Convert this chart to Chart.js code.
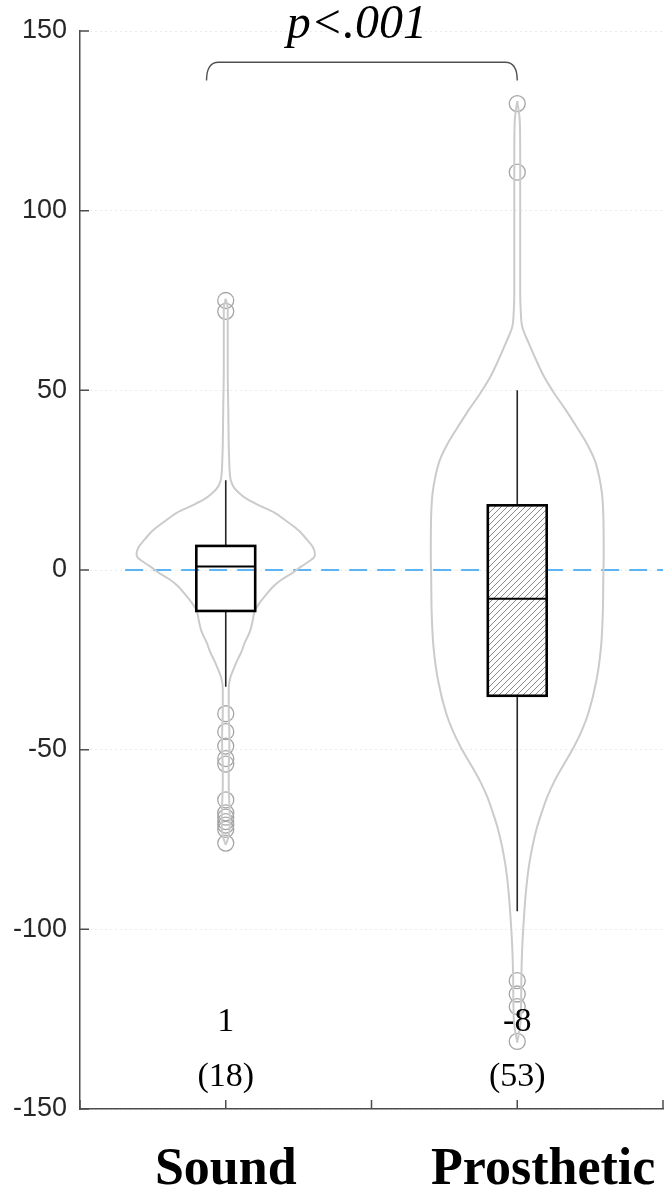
<!DOCTYPE html>
<html>
<head>
<meta charset="utf-8">
<script src="https://cdn.jsdelivr.net/npm/chart.js@4.4.1/dist/chart.umd.min.js"></script>
<style>
  html, body { margin: 0; padding: 0; background: #fff; }
  #wrap { width: 665px; height: 1194px; }
</style>
</head>
<body>
<div id="wrap"><canvas id="violin" width="665" height="1194"></canvas></div>
<script>
// groups on the x axis
const groups = ['Sound', 'Prosthetic'];
const groupPos = [1, 2];

// box plot stats
const q1 = [-11.4, -35];
const medians = [1, -8];
const q3 = [6.7, 18];
const whiskerLow = [-32.5, -95];
const whiskerHigh = [25, 50];
const iqrLabel = [18, 53];

// outliers
const soundOutliers = [75, 72, -40, -45, -49, -52.5, -54, -64, -67.6, -68.8, -70, -71, -72.2, -76];
const prostheticOutliers = [129.8, 110.7, -114.3, -118, -121.5, -131.2];

// violin outlines: levels (y) and relative density (0..1)
const soundLevels = [75.5, 73, 65, 55, 45, 35, 30, 27, 25, 23, 21.5, 20, 18, 16, 13.5, 11, 8.5, 6.4, 4.5, 3.5, 2.5, 1, -1, -2.5, -4.5, -6.5, -9, -11.5, -14, -17, -20.3, -23, -25, -28, -30, -33, -40, -45, -50, -55, -60, -65, -70, -74, -76.5];
const soundDensity = [0, .022, .022, .022, .028, .033, .039, .045, .056, .09, .145, .22, .37, .54, .68, .81, .9, .967, .99, .98, .93, .84, .73, .63, .53, .46, .38, .32, .30, .27, .21, .17, .13, .08, .05, .033, .033, .04, .04, .033, .033, .04, .045, .033, 0];
const prostheticLevels = [130.5, 125, 115, 105, 95, 85, 77, 72, 67.6, 63, 58.4, 53.7, 49.2, 44.5, 39.8, 35.3, 30.6, 25.9, 21.4, 15.8, 5, -2.8, -12, -21.4, -30.6, -39.8, -44.5, -49.2, -54, -58.4, -63, -67.6, -72, -77, -82, -86.2, -90.8, -95.4, -104.7, -113, -120, -126, -131.5];
const prostheticDensity = [0, .028, .033, .033, .033, .033, .033, .039, .056, .13, .21, .30, .41, .54, .66, .77, .86, .91, .94, .955, .96, .955, .95, .93, .88, .79, .72, .63, .52, .42, .335, .27, .215, .168, .132, .11, .092, .078, .056, .046, .043, .036, 0];

const yTicks = [-150, -100, -50, 0, 50, 100, 150];
const pText = 'p<.001';

// drawing constants
const VIOLIN_HALF = 0.309;
const BOX_HALF = 0.101;
const SERIF = '"Times New Roman", "Liberation Serif", serif';
const SANS = 'Arial, "Liberation Sans", Helvetica, sans-serif';

function violinSide(center, levels, dens, sign) {
  return levels.map((v, i) => ({ x: center + sign * dens[i] * VIOLIN_HALF, y: v }));
}

const canvas = document.getElementById('violin');
const ctx = canvas.getContext('2d');

function hatchPattern() {
  const c = document.createElement('canvas');
  c.width = 6; c.height = 6;
  const g = c.getContext('2d');
  g.fillStyle = '#fff';
  g.fillRect(0, 0, 6, 6);
  g.strokeStyle = '#8a8a8a';
  g.lineWidth = 1;
  g.beginPath();
  g.moveTo(0, 6); g.lineTo(6, 0);
  g.moveTo(-1, 1); g.lineTo(1, -1);
  g.moveTo(5, 7); g.lineTo(7, 5);
  g.stroke();
  return ctx.createPattern(c, 'repeat');
}
const hatch = hatchPattern();

const violinStyle = {
  type: 'line',
  indexAxis: 'y',
  showLine: true,
  borderColor: '#cbcbcb',
  borderWidth: 2,
  pointRadius: 0,
  cubicInterpolationMode: 'monotone',
  fill: false
};
const outlierStyle = {
  type: 'scatter',
  showLine: false,
  pointStyle: 'circle',
  pointRadius: 8,
  borderWidth: 1.3,
  borderColor: '#a5a5a5',
  backgroundColor: 'rgba(0,0,0,0)'
};

const overlay = {
  id: 'overlay',
  afterDatasetsDraw(chart) {
    const { ctx, scales: { x, y } } = chart;
    ctx.save();
    groupPos.forEach((c, i) => {
      const cx = x.getPixelForValue(c);
      // whiskers
      ctx.strokeStyle = '#262626';
      ctx.lineWidth = 1.6;
      ctx.beginPath();
      ctx.moveTo(cx, y.getPixelForValue(q3[i]));
      ctx.lineTo(cx, y.getPixelForValue(whiskerHigh[i]));
      ctx.moveTo(cx, y.getPixelForValue(q1[i]));
      ctx.lineTo(cx, y.getPixelForValue(whiskerLow[i]));
      ctx.stroke();
      // box
      const l = x.getPixelForValue(c - BOX_HALF);
      const r = x.getPixelForValue(c + BOX_HALF);
      const t = y.getPixelForValue(q3[i]);
      const b = y.getPixelForValue(q1[i]);
      if (i === 1) {
        ctx.fillStyle = hatch;
        ctx.fillRect(l, t, r - l, b - t);
      }
      ctx.strokeStyle = '#000';
      ctx.lineWidth = 2.6;
      ctx.strokeRect(l, t, r - l, b - t);
      const m = y.getPixelForValue(medians[i]);
      ctx.lineWidth = 2;
      ctx.beginPath();
      ctx.moveTo(l, m);
      ctx.lineTo(r, m);
      ctx.stroke();
    });
    ctx.restore();
  },
  afterDraw(chart) {
    const { ctx, chartArea, scales: { x, y } } = chart;
    ctx.save();
    // inward tick marks
    ctx.strokeStyle = '#4d4d4d';
    ctx.lineWidth = 1.5;
    ctx.beginPath();
    y.ticks.forEach((t) => {
      const py = y.getPixelForValue(t.value);
      ctx.moveTo(chartArea.left, py);
      ctx.lineTo(chartArea.left + 9, py);
    });
    x.ticks.forEach((t) => {
      const px = x.getPixelForValue(t.value);
      ctx.moveTo(px, chartArea.bottom);
      ctx.lineTo(px, chartArea.bottom - 9);
    });
    ctx.stroke();

    // median and IQR labels
    ctx.fillStyle = '#000';
    ctx.font = '34px ' + SERIF;
    ctx.textAlign = 'center';
    ctx.textBaseline = 'middle';
    groupPos.forEach((c, i) => {
      const px = x.getPixelForValue(c);
      ctx.fillText(String(medians[i]), px, y.getPixelForValue(-125.8));
      ctx.fillText('(' + iqrLabel[i] + ')', px, y.getPixelForValue(-141.2));
    });

    // significance bracket
    const bx0 = x.getPixelForValue(0.934);
    const bx1 = x.getPixelForValue(2.0);
    const by0 = y.getPixelForValue(141.3);
    const by1 = y.getPixelForValue(136.2);
    ctx.strokeStyle = '#505050';
    ctx.lineWidth = 1.4;
    ctx.beginPath();
    ctx.moveTo(bx0, by1);
    ctx.quadraticCurveTo(bx0, by0, bx0 + 12, by0);
    ctx.lineTo(bx1 - 12, by0);
    ctx.quadraticCurveTo(bx1, by0, bx1, by1);
    ctx.stroke();

    ctx.font = 'italic 48px ' + SERIF;
    ctx.fillText(pText, x.getPixelForValue(1.45), y.getPixelForValue(151.5));
    ctx.restore();
  }
};

const violinSets = [];
[[soundLevels, soundDensity], [prostheticLevels, prostheticDensity]].forEach(([lv, dn], g) => {
  [-1, 1].forEach((s) => {
    violinSets.push(Object.assign({ label: groups[g] + (s < 0 ? ' left' : ' right'), data: violinSide(groupPos[g], lv, dn, s) }, violinStyle));
  });
});

new Chart(ctx, {
  type: 'line',
  data: {
    datasets: violinSets.concat([
      {
        type: 'line',
        label: 'zero',
        data: [{ x: 0.655, y: 0 }, { x: 2.5, y: 0 }],
        borderColor: '#2a9df4',
        borderWidth: 1.6,
        borderDash: [18, 10],
        pointRadius: 0,
        fill: false
      },
      Object.assign({ label: 'Sound outliers', data: soundOutliers.map(v => ({ x: groupPos[0], y: v })) }, outlierStyle),
      Object.assign({ label: 'Prosthetic outliers', data: prostheticOutliers.map(v => ({ x: groupPos[1], y: v })) }, outlierStyle)
    ])
  },
  options: {
    responsive: false,
    animation: false,
    layout: { autoPadding: false, padding: { top: 31, right: 2, left: 0, bottom: 0 } },
    plugins: { legend: { display: false }, tooltip: { enabled: false } },
    scales: {
      x: {
        type: 'linear',
        min: 0.5,
        max: 2.5,
        grid: { display: false },
        border: { display: true, color: '#4d4d4d', width: 1.5 },
        afterBuildTicks(scale) {
          scale.ticks = [0.5, 1, 1.5, 2, 2.5].map(v => ({ value: v }));
        },
        afterFit(scale) {
          scale.height = 85;
          scale.paddingLeft = 0;
          scale.paddingRight = 0;
        },
        ticks: {
          autoSkip: false,
          maxRotation: 0,
          padding: 22,
          color: '#000',
          font: { family: SERIF, size: 52, weight: 'bold' },
          callback: (v) => {
            const i = groupPos.indexOf(v);
            if (i < 0) return '';
            // the second label sits a little right of its tick in the original
            return i === 1 ? '\u2002\u2002' + groups[i] : groups[i];
          }
        }
      },
      y: {
        type: 'linear',
        min: -150,
        max: 150,
        afterBuildTicks(scale) {
          scale.ticks = yTicks.map(v => ({ value: v }));
        },
        afterFit(scale) {
          scale.width = 80;
          scale.paddingTop = 0;
          scale.paddingBottom = 0;
        },
        grid: { color: '#d4d4d4', lineWidth: 1, drawTicks: false },
        border: { display: true, color: '#4d4d4d', width: 1.5, dash: [1, 4] },
        ticks: {
          padding: 13,
          color: '#262626',
          font: { family: SANS, size: 27 }
        }
      }
    }
  },
  plugins: [overlay]
});
</script>
</body>
</html>
